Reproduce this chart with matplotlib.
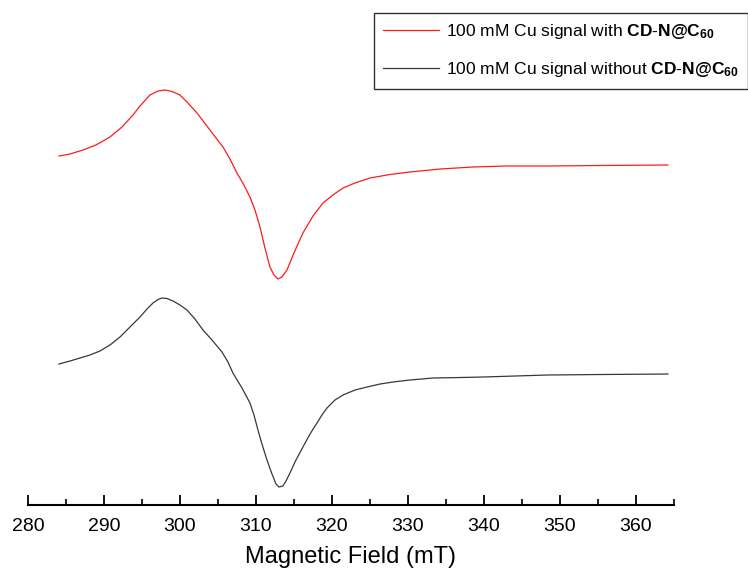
import matplotlib
matplotlib.use("Agg")
import numpy as np
from matplotlib import pyplot as plt
from matplotlib.ticker import MultipleLocator

plt.rcParams['font.family'] = ['Liberation Sans', 'DejaVu Sans']
plt.rcParams['mathtext.fontset'] = 'custom'
plt.rcParams['mathtext.rm'] = 'Liberation Sans'
plt.rcParams['mathtext.bf'] = 'Liberation Sans:bold'

# field (mT) and EPR signal (a.u.)
field_with = [284.08, 285.53, 287.24, 288.95, 290.79, 292.37, 293.82, 294.74, 296.05, 297.11,
              298.03, 298.95, 300.0, 301.05, 302.24, 303.95, 304.74, 305.66, 306.58, 307.5,
              308.42, 309.21, 309.87, 310.53, 311.18, 311.84, 312.37, 312.89, 313.42, 314.08,
              315.0, 316.18, 317.5, 318.82, 320.13, 321.45, 323.03, 325.0, 327.63, 330.26,
              334.21, 338.55, 343.03, 348.29, 355.26, 364.21]
signal_with = [10, 12, 16, 21, 29, 39, 51, 60, 71, 75,
               76, 74.5, 71, 63, 53, 36, 28, 19, 7, -7,
               -19, -31, -44, -61, -82, -101, -109, -113, -111, -104,
               -87, -67, -50, -37, -29, -22, -17, -12, -8.5, -6,
               -3, -1, 0, 0, 0.5, 1]

field_without = [284.08, 285.53, 286.84, 288.16, 289.47, 290.79, 292.11, 293.42, 294.74, 295.66,
                 296.45, 297.11, 297.63, 298.29, 299.08, 300.0, 300.92, 301.97, 303.03, 304.21,
                 305.53, 306.32, 306.97, 308.16, 309.21, 309.74, 310.26, 310.79, 311.45, 312.11,
                 312.63, 313.03, 313.55, 313.95, 314.47, 315.26, 316.18, 317.11, 318.03, 318.68,
                 319.34, 320.39, 321.45, 323.03, 324.61, 326.32, 328.03, 330.26, 333.29, 336.84,
                 339.87, 348.29, 355.26, 364.21]
signal_without = [11, 14, 17, 20, 24, 30, 38, 48, 58, 66,
                  72, 75.5, 77, 76.5, 74, 70, 65, 56, 45, 35,
                  23, 13, 2, -13, -28, -40, -55, -69, -85, -99,
                  -109, -112, -111, -106, -98, -85, -72, -59, -48, -40,
                  -33, -25, -20, -15, -12, -9, -7, -5, -3, -2.5,
                  -2, 0, 0.5, 1]

offset_with = 209  # vertical stacking offset for the red trace

fig = plt.figure(figsize=(7.48, 5.75), dpi=100)
ax = fig.add_axes([0.0374, 0.1217, 0.8636, 0.8783])

ax.plot(field_with, np.array(signal_with) + offset_with, color='#ff1a1a', lw=0.9,
        label=r'100 mM Cu signal with $\mathbf{CD}$-$\mathbf{N@C_{60}}$')
ax.plot(field_without, signal_without, color='#383838', lw=0.9,
        label=r'100 mM Cu signal without $\mathbf{CD}$-$\mathbf{N@C_{60}}$')

ax.set_xlim(280, 365)
ax.set_ylim(-130, 375)

for s in ['left', 'right', 'top']:
    ax.spines[s].set_visible(False)
ax.spines['bottom'].set_linewidth(1.5)
ax.set_yticks([])

ax.xaxis.set_major_locator(MultipleLocator(10))
ax.xaxis.set_minor_locator(MultipleLocator(5))
ax.tick_params(axis='x', which='major', direction='in', length=7, width=1.3,
               labelsize=14, pad=9)
ax.tick_params(axis='x', which='minor', direction='in', length=4, width=1.2)
ax.set_xlabel('Magnetic Field (mT)', fontsize=17, labelpad=8)

leg = ax.legend(loc='upper right', bbox_to_anchor=(1.1146, 0.975), borderaxespad=0,
                fontsize=12.5, handlelength=3.2, handletextpad=0.4, labelspacing=1.1,
                fancybox=False, framealpha=1, borderpad=0.55)
leg.get_frame().set_edgecolor('#333333')
leg.get_frame().set_linewidth(1.0)

fig.savefig('out.png', dpi=100)
